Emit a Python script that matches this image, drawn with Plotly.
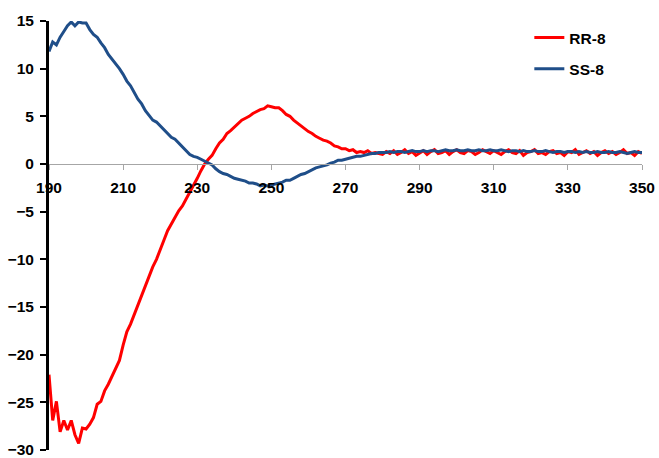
import plotly.graph_objects as go

wavelength = list(range(190, 351))

rr8 = [
    -22.1, -26.9, -24.9, -28.1, -26.9, -27.9, -26.9, -28.4, -29.3, -27.7,
    -27.8, -27.3, -26.6, -25.2, -24.9, -23.8, -23.1, -22.2, -21.4, -20.6,
    -19.0, -17.6, -16.8, -15.8, -14.6, -13.7, -12.7, -11.6, -10.8, -10.0,
    -8.9, -8.0, -7.0, -6.3, -5.6, -4.9, -4.4, -3.7, -3.0, -2.3,
    -1.5, -0.7, 0.0, 0.5, 0.9, 1.6, 2.2, 2.6, 3.2, 3.5,
    3.9, 4.2, 4.6, 4.8, 5.0, 5.3, 5.5, 5.7, 5.8, 6.1,
    6.0, 5.9, 5.9, 5.6, 5.2, 5.0, 4.6, 4.3, 4.0, 3.7,
    3.4, 3.2, 2.9, 2.7, 2.5, 2.4, 2.2, 1.9, 1.8, 1.6,
    1.6, 1.4, 1.5, 1.2, 1.3, 1.2, 1.4, 1.1, 1.2, 1.1,
    1.0, 1.3, 1.1, 1.4, 1.0, 1.2, 1.5, 1.1, 1.3, 0.9,
    1.2, 1.4, 1.0, 1.3, 1.5, 1.1, 1.2, 1.4, 1.0, 1.3,
    1.5, 1.2, 1.1, 1.4, 1.3, 1.0, 1.2, 1.5, 1.3, 1.1,
    1.4, 1.2, 1.0, 1.3, 1.5, 1.2, 1.1, 1.4, 0.9, 1.2,
    1.3, 1.5, 1.1, 1.2, 1.0, 1.3, 1.4, 1.1, 1.2, 0.9,
    1.3, 1.2, 1.5, 1.0, 1.2, 1.4, 1.1, 1.3, 0.9, 1.2,
    1.4, 1.1, 1.3, 1.0, 1.2, 1.5, 1.1, 1.2, 0.9, 1.3,
    1.1,
]

ss8 = [
    11.8, 12.8, 12.5, 13.3, 13.9, 14.5, 14.9, 14.5, 14.9, 14.8,
    14.8, 14.1, 13.6, 13.3, 12.7, 12.2, 11.5, 11.0, 10.6, 10.0,
    9.4, 8.7, 8.2, 7.5, 6.8, 6.3, 5.6, 5.1, 4.6, 4.4,
    4.0, 3.5, 3.1, 2.8, 2.6, 2.2, 1.9, 1.5, 1.0, 0.8,
    0.7, 0.5, 0.3, 0.1, -0.1, -0.5, -0.8, -1.0, -1.1, -1.3,
    -1.5, -1.6, -1.7, -1.8, -2.0, -2.0, -2.1, -2.3, -2.2, -2.3,
    -2.2, -2.1, -2.0, -1.9, -1.7, -1.7, -1.5, -1.3, -1.1, -1.0,
    -0.8, -0.6, -0.4, -0.3, -0.2, -0.1, 0.1, 0.2, 0.4, 0.4,
    0.5, 0.6, 0.7, 0.8, 0.8, 0.9, 1.0, 1.1, 1.1, 1.2,
    1.2, 1.2, 1.3, 1.2, 1.3, 1.3, 1.2, 1.3, 1.4, 1.3,
    1.3, 1.4, 1.3, 1.4, 1.4, 1.3, 1.4, 1.5, 1.4, 1.4,
    1.5, 1.4, 1.4, 1.5, 1.4, 1.4, 1.5, 1.4, 1.4, 1.5,
    1.4, 1.4, 1.5, 1.4, 1.3, 1.4, 1.4, 1.3, 1.4, 1.3,
    1.3, 1.4, 1.3, 1.3, 1.4, 1.3, 1.2, 1.3, 1.3, 1.2,
    1.3, 1.3, 1.2, 1.3, 1.2, 1.3, 1.2, 1.2, 1.3, 1.2,
    1.2, 1.3, 1.2, 1.2, 1.3, 1.2, 1.1, 1.2, 1.3, 1.2,
    1.2,
]

x_ticks = [190, 210, 230, 250, 270, 290, 310, 330, 350]
y_ticks = [-30, -25, -20, -15, -10, -5, 0, 5, 10, 15]

font = dict(family="Liberation Sans, Arial, sans-serif", size=15.5, color="black", weight="bold")

fig = go.Figure()
fig.add_trace(go.Scatter(x=wavelength, y=rr8, mode="lines", name="RR-8",
                         line=dict(color="#FF0000", width=3), legendgroup="a"))
fig.add_trace(go.Scatter(x=wavelength, y=ss8, mode="lines", name="SS-8",
                         line=dict(color="#1F4E89", width=3), legendgroup="b"))

fig.update_layout(
    width=659, height=458,
    margin=dict(l=49, r=17, t=21, b=8, autoexpand=False),
    paper_bgcolor="white", plot_bgcolor="white",
    font=font,
    showlegend=True,
    legend=dict(x=0.81, y=1.0, xanchor="left", yanchor="top",
                font=font, bgcolor="rgba(0,0,0,0)",
                traceorder="grouped", tracegroupgap=8),
    xaxis=dict(range=[190, 350], tickvals=x_ticks, anchor="free",
               position=30 / 45, showline=True, linecolor="#A6A6A6",
               linewidth=1, ticks="outside", ticklen=5, tickcolor="#A6A6A6",
               showgrid=False, zeroline=False, tickfont=font,
               ticklabelstandoff=4, automargin=False,
               ticklabeloverflow="allow"),
    yaxis=dict(range=[-30, 15], tickvals=y_ticks, showline=True,
               linecolor="black", linewidth=3, ticks="outside", ticklen=6,
               tickwidth=2, tickcolor="black", showgrid=False,
               zeroline=False, tickfont=font, ticklabelstandoff=3,
               automargin=False, ticklabeloverflow="allow"),
)

fig.write_html("out.html", config={"displayModeBar": False},
               post_script="document.body.style.margin='0';")
